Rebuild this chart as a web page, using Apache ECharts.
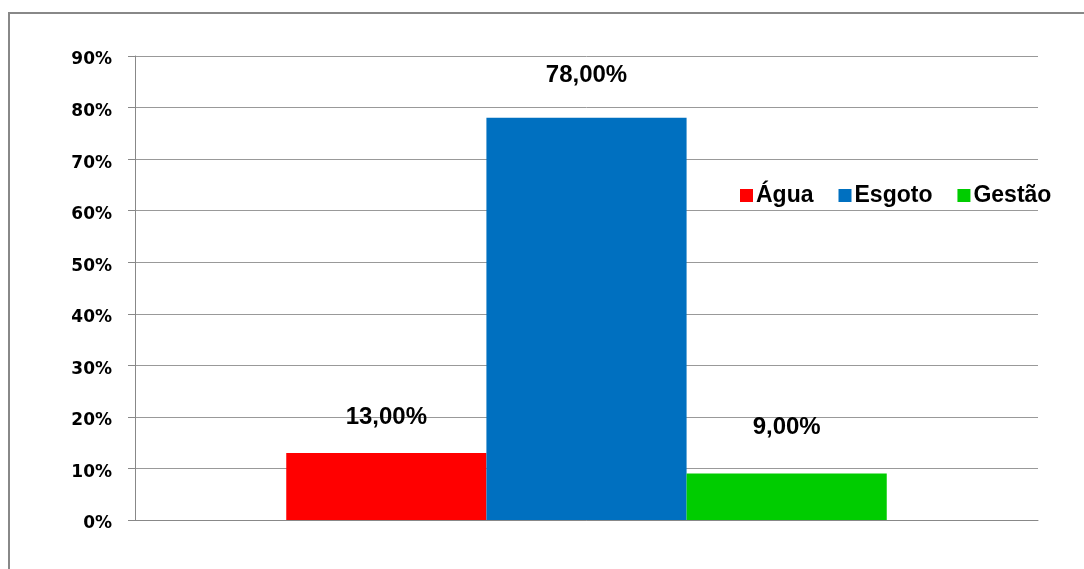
<!DOCTYPE html>
<html>
<head>
<meta charset="utf-8">
<script src="https://cdn.jsdelivr.net/npm/echarts@6/dist/echarts.min.js"></script>
<style>
  html, body { margin: 0; padding: 0; background: #fff; }
  #chart { width: 1084px; height: 569px; }
</style>
</head>
<body>
<div id="chart"></div>
<script>
// Share of investment by area (percent)
const categories = [''];
const seriesNames = ['Água', 'Esgoto', 'Gestão'];
const agua = [13];
const esgoto = [78];
const gestao = [9];
const seriesColors = ['#ff0000', '#0070c0', '#00cc00'];
const labelDistance = [24, 30, 34];

const fmt = v => v.toFixed(2).replace('.', ',') + '%';

const chart = echarts.init(document.getElementById('chart'));
const values = [agua, esgoto, gestao];

chart.setOption({
  animation: false,
  graphic: [{
    type: 'rect',
    shape: { x: 9, y: 13, width: 1100, height: 600 },
    style: { fill: 'none', stroke: '#888', lineWidth: 2 },
    silent: true
  }],
  legend: {
    data: seriesNames,
    left: 735,
    top: 179,
    itemWidth: 13,
    itemHeight: 13,
    itemGap: 25,
    icon: 'rect',
    textStyle: { fontFamily: 'Liberation Sans', fontWeight: 'bold', fontSize: 23, color: '#000', padding: [0, 0, 0, -2] }
  },
  grid: { left: 135, right: 46, top: 56, bottom: 49 },
  xAxis: {
    type: 'category',
    data: categories,
    axisLine: { show: true, lineStyle: { color: '#888' } },
    axisTick: { show: false },
    axisLabel: { show: false }
  },
  yAxis: {
    type: 'value',
    min: 0, max: 90, interval: 10,
    axisLine: { show: true, lineStyle: { color: '#888' } },
    axisTick: { show: true, length: 7, lineStyle: { color: '#888' } },
    axisLabel: {
      formatter: v => '{t|' + v + '%}', margin: 23,
      rich: {
        t: {
          fontFamily: 'DejaVu Sans', fontWeight: 'bold', fontSize: 17, color: '#000',
          padding: [8, 0, 0, 0]
        }
      }
    },
    splitLine: { lineStyle: { color: '#999' } }
  },
  series: seriesNames.map((name, i) => ({
    name,
    type: 'bar',
    data: values[i],
    barGap: '0%',
    barCategoryGap: '33.5%',
    itemStyle: { color: seriesColors[i] },
    label: {
      show: true, position: 'top', distance: labelDistance[i],
      formatter: p => fmt(p.value),
      fontFamily: 'Liberation Sans', fontWeight: 'bold', fontSize: 24, color: '#000'
    }
  }))
});
</script>
</body>
</html>
